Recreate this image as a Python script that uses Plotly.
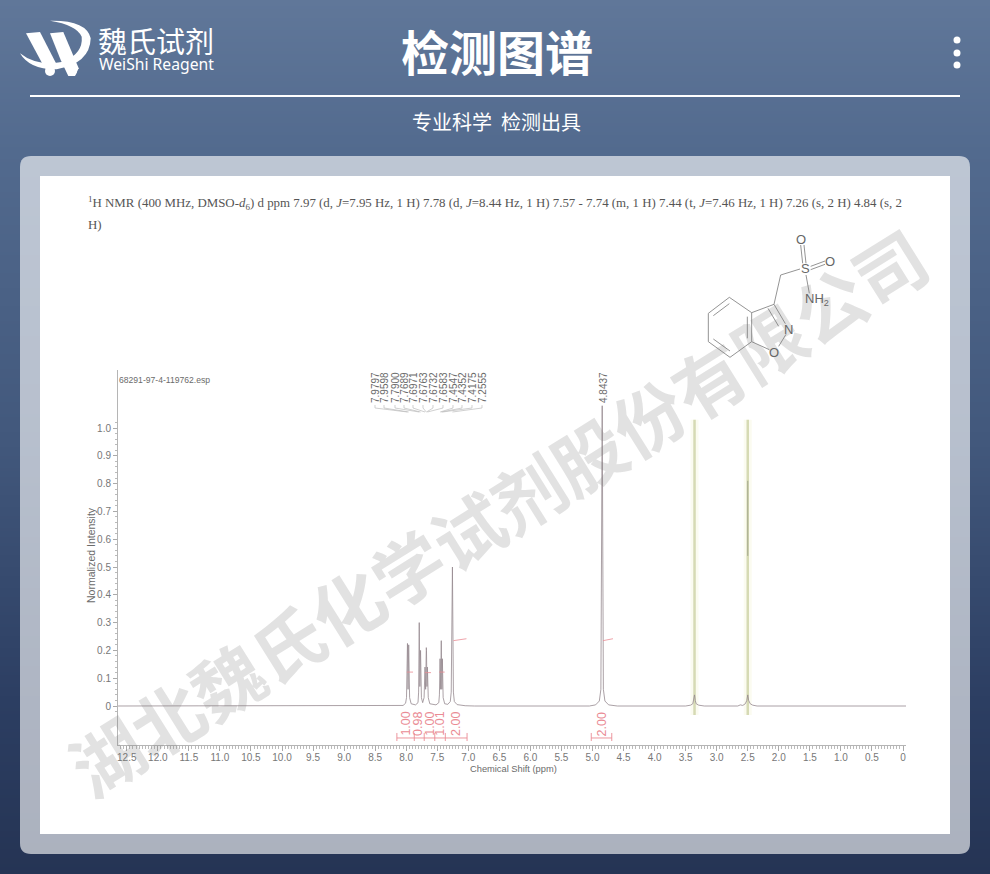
import plotly.graph_objects as go

# ---------- data ----------
spectrum_ppm = [12.64, 8.20, 8.05, 8.01, 7.995, 7.9797, 7.97, 7.9598, 7.945, 7.92, 7.85, 7.81, 7.80, 7.79, 7.78,
                7.7689, 7.755, 7.735, 7.712, 7.6971, 7.687, 7.6763, 7.6732, 7.666, 7.6583, 7.645, 7.62, 7.52,
                7.475, 7.465, 7.4547, 7.445, 7.4352, 7.426, 7.4175, 7.405, 7.38, 7.33, 7.29, 7.275, 7.2555,
                7.24, 7.225, 7.18, 7.05, 6.90, 5.05, 4.95, 4.89, 4.865, 4.8437, 4.825, 4.80, 4.74, 4.60,
                3.50, 3.42, 3.385, 3.37, 3.357, 3.345, 3.33, 3.29, 3.20, 2.66, 2.62, 2.58, 2.54, 2.515, 2.50,
                2.485, 2.46, 2.42, 2.35, -0.05]
spectrum_int = [0, 0, .002, .01, .03, .225, .06, .22, .03, .008, .004, .012, .05, .30, .07,
                .20, .03, .012, .03, .14, .06, .21, .20, .07, .14, .03, .008, .004,
                .012, .04, .17, .06, .235, .06, .17, .03, .008, .006, .016, .05, .50,
                .05, .016, .005, .001, 0, 0, .004, .018, .06, 1.08, .06, .018, .004, 0,
                0, .003, .008, .02, .04, .02, .008, .003, 0, 0, .004, .002, .008, .02, .04,
                .02, .008, .003, 0, 0]

solvent_ppm = [3.357, 2.50]
solvent_top = 1.03
solvent_bottom = -0.032
inner_ppm = [2.50, 2.50]
inner_int = [0.81, 0.54]

x_tick_vals = [12.5, 12.0, 11.5, 11.0, 10.5, 10.0, 9.5, 9.0, 8.5, 8.0, 7.5, 7.0, 6.5, 6.0, 5.5, 5.0, 4.5, 4.0,
               3.5, 3.0, 2.5, 2.0, 1.5, 1.0, 0.5, 0]
x_tick_text = ["12.5", "12.0", "11.5", "11.0", "10.5", "10.0", "9.5", "9.0", "8.5", "8.0", "7.5", "7.0", "6.5",
               "6.0", "5.5", "5.0", "4.5", "4.0", "3.5", "3.0", "2.5", "2.0", "1.5", "1.0", "0.5", "0"]
y_tick_vals = [0, .1, .2, .3, .4, .5, .6, .7, .8, .9, 1.0]
y_tick_text = ["0", "0.1", "0.2", "0.3", "0.4", "0.5", "0.6", "0.7", "0.8", "0.9", "1.0"]

peak_labels = ["7.9797", "7.9598", "7.7900", "7.7689", "7.6971", "7.6763", "7.6732", "7.6583", "7.4547",
               "7.4352", "7.4175", "7.2555"]
peak_label_px = [375, 384, 395, 404, 413, 423, 433, 443, 453, 462, 472, 482]
single_label = "4.8437"

integral_labels = ["1.00", "0.98", "1.00", "1.01", "2.00", "2.00"]
integral_label_ppm = [8.01, 7.81, 7.62, 7.46, 7.20, 4.84]
integral_edges_a = [8.15, 7.87, 7.71, 7.54, 7.37, 7.02]
integral_edges_b = [5.02, 4.69]
integral_curves = [([7.99, 7.89], [.122, .122]), ([7.70, 7.60], [.120, .120]),
                   ([7.47, 7.38], [.122, .122]), ([7.24, 7.03], [.235, .242]), ([4.83, 4.67], [.235, .242])]

header = ("<sup>1</sup>H NMR (400 MHz, DMSO-<i>d</i><sub>6</sub>) d ppm 7.97 (d, <i>J</i>=7.95 Hz, 1 H) 7.78 (d, "
          "<i>J</i>=8.44 Hz, 1 H) 7.57 - 7.74 (m, 1 H) 7.44 (t, <i>J</i>=7.46 Hz, 1 H) 7.26 (s, 2 H) 4.84 (s, 2")
header2 = "H)"
title = "检测图谱"
subtitle = "专业科学  检测出具"
brand_cn = "魏氏试剂"
brand_en = "WeiShi Reagent"
watermark = "湖北魏氏化学试剂股份有限公司"
file_label = "68291-97-4-119762.esp"
x_title = "Chemical Shift (ppm)"
y_title = "Normalized Intensity"

gradient_stops = [(0, (96, 119, 153)), (150, (82, 106, 142)), (440, (66, 88, 124)), (700, (44, 62, 98)), (874, (37, 52, 84))]

# structure in 3x crop units, (680,225) origin
bonds = [((85, 265), (148, 217)), ((148, 217), (215, 263)), ((215, 263), (215, 350)), ((215, 350), (150, 397)),
         ((150, 397), (85, 350)), ((85, 350), (85, 265)), ((100, 272), (148, 236)), ((202, 275), (202, 340)),
         ((100, 342), (150, 378)), ((215, 263), (282, 238)), ((282, 238), (316, 296)), ((264, 250), (296, 304)),
         ((318, 328), (296, 364)), ((268, 374), (215, 350)), ((282, 238), (302, 150)), ((302, 150), (360, 132)),
         ((362, 60), (368, 115)), ((372, 60), (378, 115)), ((392, 124), (435, 108)), ((392, 134), (435, 118)),
         ((378, 150), (388, 205))]
atoms = [("O", 362, 42, 13), ("O", 450, 110, 13), ("S", 375, 130, 13), ("N", 325, 312, 13), ("O", 283, 383, 13)]

# ---------- scale helpers ----------
W, H = 990, 874
PX0, PX_PER_PPM = 903.0, 62.1
PY0, PY_PER_UNIT = 706.0, 278.0
ppm_px = lambda p: PX0 - PX_PER_PPM * p

RED = "#ea8b94"

shapes, annos = [], []


def lerp_colour(y):
    for (y0, c0), (y1, c1) in zip(gradient_stops, gradient_stops[1:]):
        if y0 <= y <= y1:
            t = (y - y0) / (y1 - y0)
            return "rgb(%d,%d,%d)" % tuple(round(a + (b - a) * t) for a, b in zip(c0, c1))
    return "rgb(%d,%d,%d)" % gradient_stops[-1][1]


for y in range(0, H, 3):
    shapes.append(dict(type="rect", xref="x", yref="y", x0=0, x1=W, y0=y, y1=H, layer="below",
                       fillcolor=lerp_colour(y), line_width=0))


def round_rect(x0, y0, x1, y1, r):
    return (f"M {x0+r} {y0} L {x1-r} {y0} Q {x1} {y0} {x1} {y0+r} L {x1} {y1-r} Q {x1} {y1} {x1-r} {y1} "
            f"L {x0+r} {y1} Q {x0} {y1} {x0} {y1-r} L {x0} {y0+r} Q {x0} {y0} {x0+r} {y0} Z")


shapes.append(dict(type="path", xref="x", yref="y", path=round_rect(20, 156, 970, 854, 11), layer="below",
                   fillcolor="rgba(255,255,255,0.62)", line_width=0))
shapes.append(dict(type="rect", xref="x", yref="y", x0=40, x1=950, y0=176, y1=834, layer="below",
                   fillcolor="white", line_width=0))
shapes.append(dict(type="rect", xref="x", yref="y", x0=30, x1=960, y0=95, y1=97, layer="below",
                   fillcolor="white", line_width=0))
for cy in (40, 53, 65):
    shapes.append(dict(type="circle", xref="x", yref="y", x0=953.5, x1=960.5, y0=cy - 3.5, y1=cy + 3.5,
                       layer="below", fillcolor="white", line_width=0))


def logo_path(pts):
    return "M " + " L ".join(f"{x/3:.1f} {y/3:.1f}" for x, y in pts) + " Z"


for pts in ([(78, 100), (120, 96), (168, 190), (150, 222), (132, 200)],
            [(150, 100), (190, 96), (236, 205), (225, 228), (205, 228), (182, 180)]):
    shapes.append(dict(type="path", xref="x", yref="y", path=logo_path(pts), layer="below",
                       fillcolor="white", line_width=0))
shapes.append(dict(type="path", xref="x", yref="y", layer="below", fillcolor="white", line_width=0,
                   path=("M 20 53.3 Q 36.7 66.7 63.3 61.7 Q 83.3 53.3 81.7 36.7 Q 76.7 25 50 20.7 "
                         "Q 86.7 20 90.7 38.3 Q 90 63.3 56.7 69.3 Q 30 70 20 53.3 Z")))
for cx, cy in ((50, 71), (72, 71)):
    shapes.append(dict(type="circle", xref="x", yref="y", x0=cx - 5, x1=cx + 5, y0=cy - 5, y1=cy + 5,
                       layer="below", fillcolor="white", line_width=0))

for (a, b) in bonds:
    shapes.append(dict(type="line", xref="x", yref="y", x0=680 + a[0] / 3, y0=225 + a[1] / 3,
                       x1=680 + b[0] / 3, y1=225 + b[1] / 3, layer="below",
                       line=dict(color="#888", width=0.9)))


def text(x, y, s, size, color="#6b6b6b", family="Liberation Sans", angle=0, xanchor="center", ref=("x", "y")):
    annos.append(dict(x=x, y=y, xref=ref[0], yref=ref[1], text=s, showarrow=False, textangle=angle,
                      xanchor=xanchor, yanchor="middle", font=dict(size=size, color=color, family=family)))


text(497, 50, f"<b>{title}</b>", 48, "white", "Noto Sans CJK SC")
text(496, 121, subtitle, 20, "white", "Noto Sans CJK SC")
text(156, 40, brand_cn, 29, "white", "Noto Sans CJK SC")
text(156, 64, brand_en, 15.7, "white", "Noto Sans")
text(86, 203, header, 12.9, "#555", "Liberation Serif", xanchor="left")
text(86, 225, header2, 12.9, "#555", "Liberation Serif", xanchor="left")
text(117, 380, file_label, 8.6, xanchor="left")
text(513, 769, x_title, 9.3)
text(91, 555, y_title, 10.5, angle=-90)
for label, px in zip(peak_labels, peak_label_px):
    text(px, 388, label, 10, angle=-90)
text(603, 388, single_label, 10, angle=-90)

peak_ppm = [float(p) for p in peak_labels]
for px, p in zip(peak_label_px, peak_ppm):
    shapes.append(dict(type="path", xref="x", yref="y", layer="below", line=dict(color="#bbb", width=0.7),
                       path=f"M {px} 405 L {px} 408 L {ppm_px(p):.1f} 412"))

for label, p in zip(integral_labels, integral_label_ppm):
    text(ppm_px(p), 724, label, 12.5, RED, angle=-90)

# watermark above everything
text(497, 510, f"<b>{watermark}</b>", 71, "rgba(125,125,125,0.22)", "Noto Sans CJK SC", angle=-32)
for s, x, y, size in [(a[0], a[1], a[2], a[3]) for a in atoms]:
    text(680 + x / 3, 225 + y / 3, s, size, "#666")
text(680 + 410 / 3, 225 + 222 / 3, "NH<sub>2</sub>", 13, "#666")

# ---------- traces ----------
fig = go.Figure()
fig.add_trace(go.Scatter(x=[0, W], y=[0, H], mode="markers", marker=dict(opacity=0), hoverinfo="skip",
                         showlegend=False, xaxis="x", yaxis="y"))

for p in solvent_ppm:
    fig.add_trace(go.Scatter(x=[p, p], y=[solvent_bottom, solvent_top], mode="lines", hoverinfo="skip",
                             line=dict(color="#fbfbf0", width=8), showlegend=False, xaxis="x2", yaxis="y2"))
for p in solvent_ppm:
    fig.add_trace(go.Scatter(x=[p, p], y=[solvent_bottom, solvent_top], mode="lines", hoverinfo="skip",
                             line=dict(color="#d6dab4", width=2.5), showlegend=False, xaxis="x2", yaxis="y2"))
fig.add_trace(go.Scatter(x=inner_ppm, y=inner_int, mode="lines", hoverinfo="skip",
                         line=dict(color="#a4a78e", width=1), showlegend=False, xaxis="x2", yaxis="y2"))
fig.add_trace(go.Scatter(x=spectrum_ppm, y=spectrum_int, mode="lines", hoverinfo="skip",
                         line=dict(color="#96898f", width=0.8), showlegend=False, xaxis="x2", yaxis="y2"))

for xs, ys in integral_curves:
    fig.add_trace(go.Scatter(x=xs, y=ys, mode="lines", hoverinfo="skip", line=dict(color=RED, width=0.8),
                             showlegend=False, xaxis="x2", yaxis="y2"))

BRACKET_Y, BRACKET_TOP, BRACKET_BOT = -0.115, -0.097, -0.126
for edges in (integral_edges_a, integral_edges_b):
    fig.add_trace(go.Scatter(x=[edges[0], edges[-1]], y=[BRACKET_Y, BRACKET_Y], mode="lines", hoverinfo="skip",
                             line=dict(color=RED, width=0.9), showlegend=False, xaxis="x2", yaxis="y2"))
    for e in edges:
        fig.add_trace(go.Scatter(x=[e, e], y=[BRACKET_TOP, BRACKET_BOT], mode="lines", hoverinfo="skip",
                                 line=dict(color=RED, width=0.9), showlegend=False, xaxis="x2", yaxis="y2"))

# ---------- layout ----------
AX_L, AX_R, AX_B, AX_T = 118, 906, 745, 370
x_minor = [i * 0.05 for i in range(0, 253)]
y_minor = [i * 0.02 for i in range(-1, 52)]
fig.update_layout(
    width=W, height=H, margin=dict(l=0, r=0, t=0, b=0, pad=0), paper_bgcolor="white", plot_bgcolor="rgba(0,0,0,0)",
    showlegend=False, shapes=shapes, annotations=annos,
    xaxis=dict(domain=[0, 1], range=[0, W], visible=False, fixedrange=True),
    yaxis=dict(domain=[0, 1], range=[H, 0], visible=False, fixedrange=True),
    xaxis2=dict(domain=[AX_L / W, AX_R / W], range=[(PX0 - AX_L) / PX_PER_PPM, (PX0 - AX_R) / PX_PER_PPM],
                anchor="y2", showgrid=False, zeroline=False, showline=True, linecolor="#b5b5b5", linewidth=1,
                ticks="outside", ticklen=5, tickcolor="#aaa", tickwidth=0.8, tickmode="array",
                tickvals=x_tick_vals, ticktext=x_tick_text, ticklabelstandoff=-2,
                tickfont=dict(size=10, color="#777", family="Liberation Sans"),
                minor=dict(tickmode="array", tickvals=x_minor, ticks="outside", ticklen=3, tickcolor="#bbb",
                           tickwidth=0.7, showgrid=False)),
    yaxis2=dict(domain=[1 - AX_B / H, 1 - AX_T / H], range=[(PY0 - AX_B) / PY_PER_UNIT, (PY0 - AX_T) / PY_PER_UNIT],
                anchor="x2", showgrid=False, zeroline=False, showline=True, linecolor="#b5b5b5", linewidth=1,
                ticks="outside", ticklen=4, tickcolor="#aaa", tickwidth=0.8, tickmode="array",
                tickvals=y_tick_vals, ticktext=y_tick_text,
                tickfont=dict(size=10, color="#777", family="Liberation Sans"),
                minor=dict(tickmode="array", tickvals=y_minor, ticks="outside", ticklen=2.5, tickcolor="#bbb",
                           tickwidth=0.7, showgrid=False)),
)

fig.write_html("out.html", config=dict(displayModeBar=False, responsive=False),
               post_script="document.body.style.margin='0';document.body.style.overflow='hidden';")
